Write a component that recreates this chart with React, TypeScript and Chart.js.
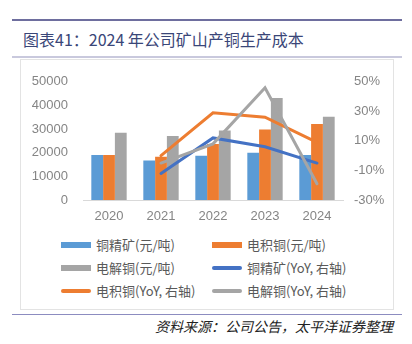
import React, { useEffect, useRef } from "react";
import { Chart, registerables } from "chart.js";

Chart.register(...registerables);

const years = ["2020", "2021", "2022", "2023", "2024"];
const concentrateCost = [19000, 16700, 18700, 20000, 19000];
const electrowonCost = [19000, 18300, 23700, 29800, 32200];
const electrolyticCost = [28500, 27100, 29400, 43100, 35200];
const concentrateYoY = [null, -12, 12, 6, -5];
const electrowonYoY = [null, 0, 29, 26, 9];
const electrolyticYoY = [null, -5, 8, 46, -19];

const leftTicks = [0, 10000, 20000, 30000, 40000, 50000];
const rightTicks = [-30, -10, 10, 30, 50];

const legendItems = [
  { label: "铜精矿(元/吨)", color: "#5B9BD5", kind: "bar" },
  { label: "电积铜(元/吨)", color: "#ED7D31", kind: "bar" },
  { label: "电解铜(元/吨)", color: "#A5A5A5", kind: "bar" },
  { label: "铜精矿(YoY, 右轴)", color: "#4472C4", kind: "line" },
  { label: "电积铜(YoY, 右轴)", color: "#ED7D31", kind: "line" },
  { label: "电解铜(YoY, 右轴)", color: "#A5A5A5", kind: "line" },
];

const tickFont = { family: "'Liberation Sans', Arial, sans-serif", size: 13 };
const tickColor = "#858585";

export default function App() {
  const ref = useRef<HTMLCanvasElement | null>(null);

  useEffect(() => {
    if (!ref.current) return;
    const chart = new Chart(ref.current, {
      type: "bar",
      data: {
        labels: years,
        datasets: [
          { type: "line", label: "电解铜(YoY, 右轴)", data: electrolyticYoY, yAxisID: "y1", borderColor: "#A5A5A5", backgroundColor: "#A5A5A5", borderWidth: 3, pointRadius: 0, order: 0, borderCapStyle: "round" },
          { type: "line", label: "电积铜(YoY, 右轴)", data: electrowonYoY, yAxisID: "y1", borderColor: "#ED7D31", backgroundColor: "#ED7D31", borderWidth: 3, pointRadius: 0, order: 1, borderCapStyle: "round" },
          { type: "line", label: "铜精矿(YoY, 右轴)", data: concentrateYoY, yAxisID: "y1", borderColor: "#4472C4", backgroundColor: "#4472C4", borderWidth: 3, pointRadius: 0, order: 2, borderCapStyle: "round" },
          { type: "bar", label: "铜精矿(元/吨)", data: concentrateCost, yAxisID: "y", backgroundColor: "#5B9BD5", order: 3, barPercentage: 1, categoryPercentage: 0.68 },
          { type: "bar", label: "电积铜(元/吨)", data: electrowonCost, yAxisID: "y", backgroundColor: "#ED7D31", order: 3, barPercentage: 1, categoryPercentage: 0.68 },
          { type: "bar", label: "电解铜(元/吨)", data: electrolyticCost, yAxisID: "y", backgroundColor: "#A5A5A5", order: 3, barPercentage: 1, categoryPercentage: 0.68 },
        ] as any,
      },
      options: {
        animation: false,
        responsive: false,
        maintainAspectRatio: false,
        layout: { padding: { top: 18, left: 0, right: 0, bottom: 0 } },
        plugins: { legend: { display: false }, tooltip: { enabled: false } },
        scales: {
          x: {
            grid: { display: false, drawTicks: false },
            border: { display: true, color: "#D9D9D9", width: 1 },
            ticks: { font: tickFont, color: tickColor, padding: 9 },
            afterFit: (s: any) => { s.height = 29; },
          },
          y: {
            position: "left",
            min: 0,
            max: 50000,
            grid: { display: false, drawTicks: false },
            border: { display: false },
            afterBuildTicks: (s: any) => { s.ticks = leftTicks.map((v) => ({ value: v })); },
            ticks: { font: tickFont, color: tickColor, padding: 15, callback: (v: any) => String(v) },
            afterFit: (s: any) => { s.width = 62; },
          },
          y1: {
            position: "right",
            min: -30,
            max: 50,
            grid: { display: false, drawTicks: false },
            border: { display: false },
            afterBuildTicks: (s: any) => { s.ticks = rightTicks.map((v) => ({ value: v })); },
            ticks: { font: tickFont, color: tickColor, padding: 11, callback: (v: any) => v + "%" },
            afterFit: (s: any) => { s.width = 49; },
          },
        },
      },
    });
    return () => chart.destroy();
  }, []);

  const cjk = "'Noto Sans CJK SC', 'Noto Sans', sans-serif";

  return (
    <div style={{ position: "fixed", left: 0, top: 0, width: 412, height: 344, background: "#fff", overflow: "hidden" }}>
      <div style={{ position: "absolute", left: 12, top: 19, width: 390, height: 2, background: "#6E6E9E" }} />
      <div style={{ position: "absolute", left: 23, top: 29, fontFamily: cjk, fontSize: 16, color: "#3A4678", whiteSpace: "nowrap", lineHeight: "20px" }}>
        图表41：2024 年公司矿山产铜生产成本
      </div>
      <div style={{ position: "absolute", left: 12, top: 56, width: 390, height: 2, background: "#C9C9DD" }} />
      <div style={{ position: "absolute", left: 20, top: 59, width: 372, height: 249, border: "1px solid #E3E3E3" }} />
      <canvas ref={ref} width={371} height={170} style={{ position: "absolute", left: 21, top: 59, width: 371, height: 170 }} />
      <div style={{ position: "absolute", left: 0, top: 0 }}>
        {legendItems.map((it, i) => {
          const col = i % 2;
          const row = Math.floor(i / 2);
          const x = col === 0 ? 61 : 212;
          const y = 245 + row * 23;
          return (
            <div key={i} style={{ position: "absolute", left: x, top: y - 10, height: 20, display: "flex", alignItems: "center", whiteSpace: "nowrap" }}>
              <div style={{ width: 30, height: it.kind === "bar" ? 6 : 4, background: it.color, borderRadius: it.kind === "bar" ? 0 : 2 }} />
              <span style={{ marginLeft: 5, fontFamily: cjk, fontSize: 13, color: "#595959", lineHeight: "20px" }}>{it.label}</span>
            </div>
          );
        })}
      </div>
      <div style={{ position: "absolute", left: 12, top: 314, width: 390, height: 1, background: "#8C8CC0" }} />
      <div style={{ position: "absolute", right: 19, top: 316, fontFamily: cjk, fontSize: 14, fontStyle: "italic", color: "#222", whiteSpace: "nowrap", lineHeight: "20px" }}>
        资料来源：公司公告，太平洋证券整理
      </div>
    </div>
  );
}
